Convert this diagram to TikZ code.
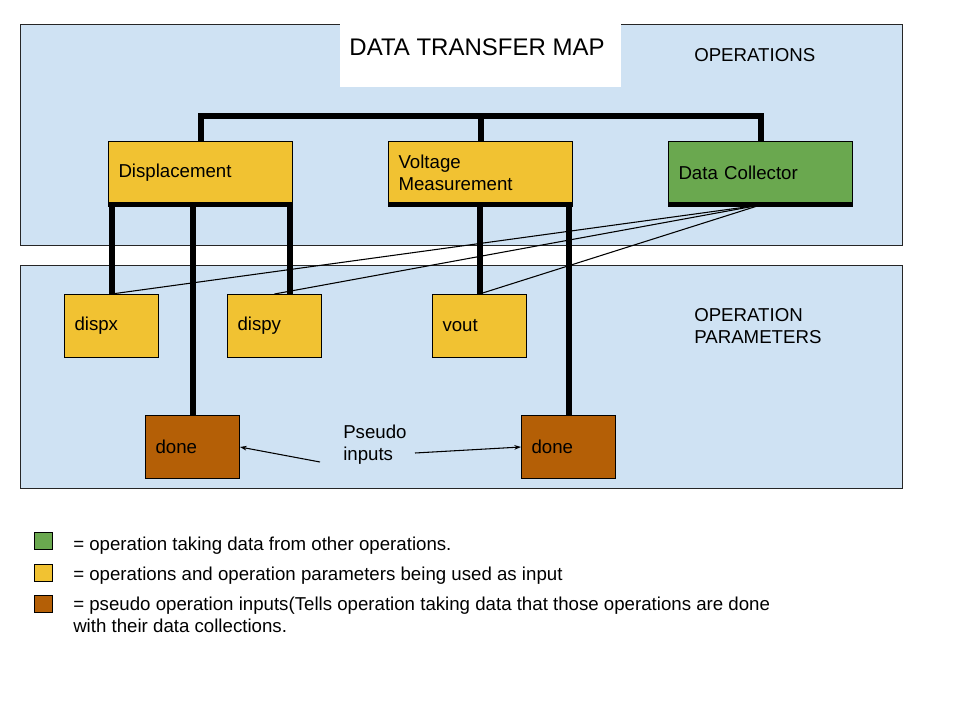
\documentclass[tikz,border=0pt]{standalone}
\usepackage{fontspec}
\setmainfont{Liberation Sans}
\usetikzlibrary{calc, arrows.meta}

\definecolor{panelblue}{HTML}{CFE2F3}
\definecolor{opyellow}{HTML}{F1C232}
\definecolor{opgreen}{HTML}{6AA84F}
\definecolor{opbrown}{HTML}{B45F06}

\tikzset{
 panel/.style={draw=black!85, fill=panelblue, line width=0.75pt},
 opbox/.style={draw=black, line width=0.75pt, fill=#1, anchor=north west,
  minimum height=47.25pt, text width=123pt, inner xsep=7.5pt, inner ysep=0pt, align=left},
 parbox/.style={opbox=#1, text width=55.5pt},
 keybox/.style={draw=black, line width=0.75pt, fill=#1, minimum width=13.5pt,
  minimum height=12.75pt, inner sep=0pt},
 note/.style={inner sep=0pt, align=left, anchor=west},
 link/.style={line width=4.5pt},
 wire/.style={line width=0.8pt},
 hint/.style={line width=0.8pt, -{Stealth[length=5pt, width=3.5pt]}},
}

\begin{document}
\begin{tikzpicture}[x=0.75pt, y=-0.75pt, font=\fontsize{14}{16.5}\selectfont]
\useasboundingbox (0,0) rectangle (960,720);

% panels
\draw[panel] (20,25) rectangle (902,246);
\draw[panel] (20,266) rectangle (902,488);
\fill[white] (340,20) rectangle (621,87);
\node (title) at (477,47) {\fontsize{18}{22}\selectfont DATA TRANSFER MAP};
\node[note] (ops) at (694,55) {OPERATIONS};
\node[note] (params) at (694,326) {OPERATION\\PARAMETERS};

% operations
\node[opbox=opyellow] (disp) at (108,141) {Displacement};
\node[opbox=opyellow] (volt) at (388,141) {Voltage\\Measurement};
\node[opbox=opgreen] (dc) at (668,141) {Data Collector};

% parameters
\node[parbox=opyellow] (dispx) at (64,294) {dispx};
\node[parbox=opyellow] (dispy) at (227,294) {dispy};
\node[parbox=opyellow] (vout) at (432,294) {vout};
\node[parbox=opbrown] (doneA) at (145,415) {done};
\node[parbox=opbrown] (doneB) at (521,415) {done};

\node[note] (pseudo) at (343,445) {Pseudo\\inputs};
\coordinate (pA) at (320,462);
\coordinate (pB) at (415,453);
\coordinate (bus) at (0,116);

% data collector inputs
\foreach \t in {dispx, dispy, vout}
 \draw[wire] (dc.south) -- (\t.north);

% tree
\draw[link] (disp.north) -- (disp.north |- bus) -| (dc.north);
\draw[link] (volt.north) -- (volt.north |- bus);
\draw[link] (dispx.north |- disp.south) -- (dispx.north);
\draw[link] (disp.south east) ++(-3,0) coordinate (dy) -- (dy |- dispy.north);
\draw[link] (doneA.north |- disp.south) -- (doneA.north);
\draw[link] (vout.north |- volt.south) -- (vout.north);
\draw[link] (doneB.north |- volt.south) -- (doneB.north);
\foreach \b in {disp, volt, dc}
 \draw[line width=3.75pt] (\b.south west) -- (\b.south east);

\draw[hint] (pA) -- (doneA.east);
\draw[hint] (pB) -- (doneB.west);

% legend
\node[keybox=opgreen] (keyG) at (43,541) {};
\node[keybox=opyellow] (keyY) at (43,573) {};
\node[keybox=opbrown] (keyB) at (43,604) {};
\node[note] (txtG) at (73,546) {= operation taking data from other operations.};
\node[note] (txtY) at (73,576) {= operations and operation parameters being used as input};
\node[note, anchor=north west] (txtB) at (73,597) {= pseudo operation inputs(Tells operation taking data that those operations are done\\with their data collections.};
\end{tikzpicture}
\end{document}
